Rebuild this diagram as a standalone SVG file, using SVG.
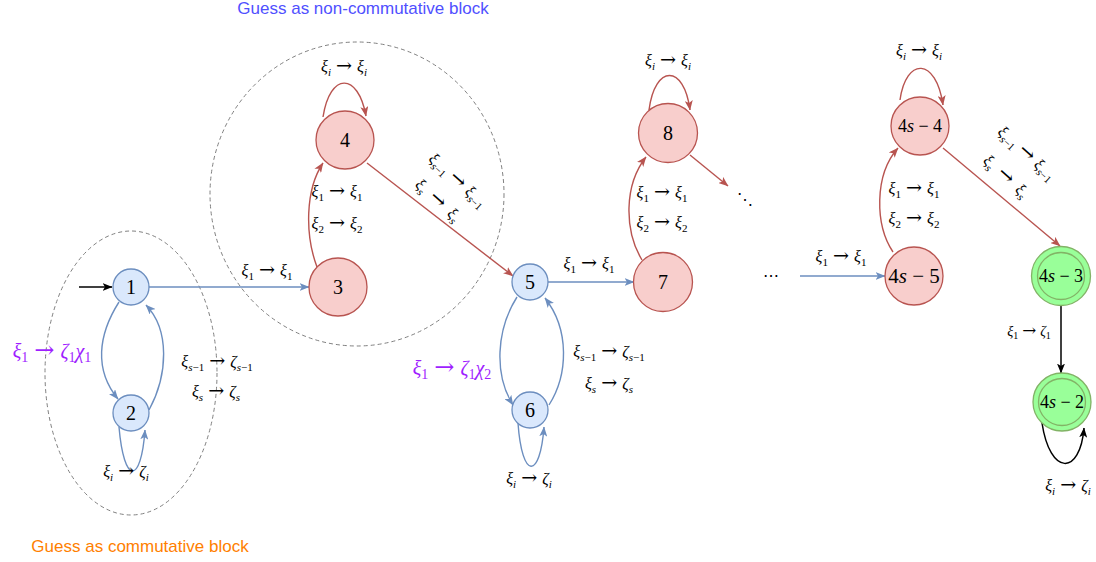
<svg xmlns="http://www.w3.org/2000/svg" width="1096" height="562" viewBox="0 0 1096 562">
<style>
.m{font-family:"Liberation Serif","DejaVu Serif",serif;font-size:16px;fill:#000;text-anchor:middle}
.i{font-style:italic}
.s{font-size:11px}
.a{font-family:"DejaVu Serif","Liberation Serif",serif;font-style:normal;font-size:120%}
.p{fill:#9f1fff;font-size:20px}
.p .s{font-size:14px}
.sm{font-size:14px}
.sm .s{font-size:10px}
.nl{font-family:"Liberation Serif","DejaVu Serif",serif;font-size:20px;fill:#000;text-anchor:middle}
.nl2{font-family:"Liberation Serif","DejaVu Serif",serif;font-size:18px;fill:#000;text-anchor:middle}
.bn{fill:#dae8fc;stroke:#6c8ebf;stroke-width:1.3}
.rn{fill:#f8cecc;stroke:#b85450;stroke-width:1.3}
.gn{fill:#99ff99;stroke:#82b366;stroke-width:1.3}
.be{fill:none;stroke:#6c8ebf;stroke-width:1.4;marker-end:url(#ab)}
.re{fill:none;stroke:#b85450;stroke-width:1.4;marker-end:url(#ar)}
.ke{fill:none;stroke:#000;stroke-width:1.5;marker-end:url(#ak)}
.grp{fill:none;stroke:#808080;stroke-width:1;stroke-dasharray:4 3}
.t{font-family:"Liberation Sans",Arial,sans-serif;font-size:17px;text-anchor:middle}
</style>
<defs>
<marker id="ab" viewBox="0 0 10 8" markerWidth="10" markerHeight="8" refX="9.5" refY="4" orient="auto" markerUnits="userSpaceOnUse"><path d="M0,0 L10,4 L0,8 L2.5,4 Z" fill="#6c8ebf"/></marker>
<marker id="ar" viewBox="0 0 10 8" markerWidth="10" markerHeight="8" refX="9.5" refY="4" orient="auto" markerUnits="userSpaceOnUse"><path d="M0,0 L10,4 L0,8 L2.5,4 Z" fill="#b85450"/></marker>
<marker id="ak" viewBox="0 0 10 8" markerWidth="10" markerHeight="8" refX="9.5" refY="4" orient="auto" markerUnits="userSpaceOnUse"><path d="M0,0 L10,4 L0,8 L2.5,4 Z" fill="#000"/></marker>
</defs>
<rect width="1096" height="562" fill="#fff"/>

<g id="groups">
<ellipse class="grp" cx="131" cy="373" rx="86" ry="142"/>
<ellipse class="grp" cx="357" cy="194" rx="147" ry="152"/>
<text class="t" x="363" y="14" fill="#5050ff">Guess as non-commutative block</text>
<text class="t" x="140" y="552" fill="#ff8000">Guess as commutative block</text>
</g>

<g id="connectors">
<path class="ke" d="M79,287 L112,287"/>
<path class="be" d="M149,287 L309,287"/>
<path class="be" d="M119,302 C98,335 94,370 118,399"/>
<path class="be" d="M149,410 C168,375 170,330 146,305"/>
<path class="be" d="M119,427 C124,485 141,485 145,430"/>
<path class="re" d="M317,267 C305,235 305,190 323,163"/>
<path class="re" d="M323,117 C330,72 358,72 366,116"/>
<path class="re" d="M367,163 L513,276"/>
<path class="be" d="M548,282 L634,282"/>
<path class="be" d="M517,297 C496,330 494,375 513,405"/>
<path class="be" d="M549,405 C568,375 570,330 545,298"/>
<path class="be" d="M518,423 C522,480 540,480 544,427"/>
<path class="re" d="M642,260 C624,230 624,185 646,157"/>
<path class="re" d="M649,110 C655,64 684,64 690,110"/>
<path class="re" d="M690,155 L728,186"/>
<path class="be" d="M800,276 L885,276"/>
<path class="re" d="M893,252 C875,225 874,175 898,148"/>
<path class="re" d="M900,100 C906,57 936,57 943,105"/>
<path class="re" d="M943,148 L1060,246"/>
<path class="ke" d="M1061,305 L1061,373"/>
<path class="ke" d="M1042,423 C1050,476 1080,476 1084,428"/>

<g id="edge-labels">
<text class="m" x="267" y="276"><tspan class="i">ξ</tspan><tspan class="s" dy="4">1</tspan><tspan class="a" dx="5" dy="-4">→</tspan><tspan class="i" dx="5">ξ</tspan><tspan class="s" dy="4">1</tspan></text>
<text class="m p" x="52" y="358"><tspan class="i">ξ</tspan><tspan class="s" dy="4">1</tspan><tspan class="a" dx="6" dy="-4">→</tspan><tspan class="i" dx="6">ζ</tspan><tspan class="s" dy="4">1</tspan><tspan class="i" dy="-4">χ</tspan><tspan class="s" dy="4">1</tspan></text>
<text class="m" x="217" y="367"><tspan class="i">ξ</tspan><tspan class="s" dy="4"><tspan class="i">s</tspan>−1</tspan><tspan class="a" dx="5" dy="-4">→</tspan><tspan class="i" dx="5">ζ</tspan><tspan class="s" dy="4"><tspan class="i">s</tspan>−1</tspan></text>
<text class="m" x="216" y="397"><tspan class="i">ξ</tspan><tspan class="s i" dy="4">s</tspan><tspan class="a" dx="5" dy="-4">→</tspan><tspan class="i" dx="5">ζ</tspan><tspan class="s i" dy="4">s</tspan></text>
<text class="m" x="126" y="477"><tspan class="i">ξ</tspan><tspan class="s i" dy="4">i</tspan><tspan class="a" dx="5" dy="-4">→</tspan><tspan class="i" dx="5">ζ</tspan><tspan class="s i" dy="4">i</tspan></text>

<text class="m" x="344" y="72"><tspan class="i">ξ</tspan><tspan class="s i" dy="4">i</tspan><tspan class="a" dx="5" dy="-4">→</tspan><tspan class="i" dx="5">ξ</tspan><tspan class="s i" dy="4">i</tspan></text>
<text class="m" x="337" y="197"><tspan class="i">ξ</tspan><tspan class="s" dy="4">1</tspan><tspan class="a" dx="5" dy="-4">→</tspan><tspan class="i" dx="5">ξ</tspan><tspan class="s" dy="4">1</tspan></text>
<text class="m" x="337" y="229"><tspan class="i">ξ</tspan><tspan class="s" dy="4">2</tspan><tspan class="a" dx="5" dy="-4">→</tspan><tspan class="i" dx="5">ξ</tspan><tspan class="s" dy="4">2</tspan></text>
<text class="m" transform="translate(457,181) rotate(42)" x="0" y="4"><tspan class="i">ξ</tspan><tspan class="s" dy="4"><tspan class="i">s</tspan>−1</tspan><tspan class="a" dx="5" dy="-4">→</tspan><tspan class="i" dx="5">ξ</tspan><tspan class="s" dy="4"><tspan class="i">s</tspan>−1</tspan></text>
<text class="m" transform="translate(437,201) rotate(42)" x="0" y="4"><tspan class="i">ξ</tspan><tspan class="s i" dy="4">s</tspan><tspan class="a" dx="8" dy="-4">→</tspan><tspan class="i" dx="8">ξ</tspan><tspan class="s i" dy="4">s</tspan></text>

<text class="m" x="589" y="269"><tspan class="i">ξ</tspan><tspan class="s" dy="4">1</tspan><tspan class="a" dx="5" dy="-4">→</tspan><tspan class="i" dx="5">ξ</tspan><tspan class="s" dy="4">1</tspan></text>
<text class="m p" x="452" y="375"><tspan class="i">ξ</tspan><tspan class="s" dy="4">1</tspan><tspan class="a" dx="6" dy="-4">→</tspan><tspan class="i" dx="6">ζ</tspan><tspan class="s" dy="4">1</tspan><tspan class="i" dy="-4">χ</tspan><tspan class="s" dy="4">2</tspan></text>
<text class="m" x="609" y="357"><tspan class="i">ξ</tspan><tspan class="s" dy="4"><tspan class="i">s</tspan>−1</tspan><tspan class="a" dx="5" dy="-4">→</tspan><tspan class="i" dx="5">ζ</tspan><tspan class="s" dy="4"><tspan class="i">s</tspan>−1</tspan></text>
<text class="m" x="609" y="389"><tspan class="i">ξ</tspan><tspan class="s i" dy="4">s</tspan><tspan class="a" dx="5" dy="-4">→</tspan><tspan class="i" dx="5">ζ</tspan><tspan class="s i" dy="4">s</tspan></text>
<text class="m" x="529" y="484"><tspan class="i">ξ</tspan><tspan class="s i" dy="4">i</tspan><tspan class="a" dx="5" dy="-4">→</tspan><tspan class="i" dx="5">ζ</tspan><tspan class="s i" dy="4">i</tspan></text>

<text class="m" x="668" y="66"><tspan class="i">ξ</tspan><tspan class="s i" dy="4">i</tspan><tspan class="a" dx="5" dy="-4">→</tspan><tspan class="i" dx="5">ξ</tspan><tspan class="s i" dy="4">i</tspan></text>
<text class="m" x="662" y="198"><tspan class="i">ξ</tspan><tspan class="s" dy="4">1</tspan><tspan class="a" dx="5" dy="-4">→</tspan><tspan class="i" dx="5">ξ</tspan><tspan class="s" dy="4">1</tspan></text>
<text class="m" x="662" y="228"><tspan class="i">ξ</tspan><tspan class="s" dy="4">2</tspan><tspan class="a" dx="5" dy="-4">→</tspan><tspan class="i" dx="5">ξ</tspan><tspan class="s" dy="4">2</tspan></text>
<text class="m" x="745" y="205" style="font-size:16px">⋱</text>
<text class="m" x="771" y="281" style="font-size:16px">⋯</text>

<text class="m" x="841" y="262"><tspan class="i">ξ</tspan><tspan class="s" dy="4">1</tspan><tspan class="a" dx="5" dy="-4">→</tspan><tspan class="i" dx="5">ξ</tspan><tspan class="s" dy="4">1</tspan></text>
<text class="m" x="914" y="194"><tspan class="i">ξ</tspan><tspan class="s" dy="4">1</tspan><tspan class="a" dx="5" dy="-4">→</tspan><tspan class="i" dx="5">ξ</tspan><tspan class="s" dy="4">1</tspan></text>
<text class="m" x="914" y="224"><tspan class="i">ξ</tspan><tspan class="s" dy="4">2</tspan><tspan class="a" dx="5" dy="-4">→</tspan><tspan class="i" dx="5">ξ</tspan><tspan class="s" dy="4">2</tspan></text>
<text class="m" x="919" y="56"><tspan class="i">ξ</tspan><tspan class="s i" dy="4">i</tspan><tspan class="a" dx="5" dy="-4">→</tspan><tspan class="i" dx="5">ξ</tspan><tspan class="s i" dy="4">i</tspan></text>
<text class="m" transform="translate(1026,154) rotate(42)" x="0" y="4"><tspan class="i">ξ</tspan><tspan class="s" dy="4"><tspan class="i">s</tspan>−1</tspan><tspan class="a" dx="5" dy="-4">→</tspan><tspan class="i" dx="5">ξ</tspan><tspan class="s" dy="4"><tspan class="i">s</tspan>−1</tspan></text>
<text class="m" transform="translate(1005,177) rotate(42)" x="0" y="4"><tspan class="i">ξ</tspan><tspan class="s i" dy="4">s</tspan><tspan class="a" dx="8" dy="-4">→</tspan><tspan class="i" dx="8">ξ</tspan><tspan class="s i" dy="4">s</tspan></text>
<text class="m sm" x="1029" y="336"><tspan class="i">ξ</tspan><tspan class="s" dy="3">1</tspan><tspan class="a" dx="4" dy="-3">→</tspan><tspan class="i" dx="4">ζ</tspan><tspan class="s" dy="3">1</tspan></text>
<text class="m" x="1068" y="491"><tspan class="i">ξ</tspan><tspan class="s i" dy="4">i</tspan><tspan class="a" dx="5" dy="-4">→</tspan><tspan class="i" dx="5">ζ</tspan><tspan class="s i" dy="4">i</tspan></text>
</g>
</g>

<g id="node-1"><circle class="bn" cx="131" cy="287" r="18"/><text class="nl" x="131" y="294">1</text></g>
<g id="node-2"><circle class="bn" cx="131" cy="413" r="18"/><text class="nl" x="131" y="420">2</text></g>
<g id="node-3"><circle class="rn" cx="338" cy="287" r="29"/><text class="nl" x="338" y="294">3</text></g>
<g id="node-4"><circle class="rn" cx="345" cy="140" r="29"/><text class="nl" x="345" y="147">4</text></g>
<g id="node-5"><circle class="bn" cx="530" cy="282" r="18"/><text class="nl" x="530" y="289">5</text></g>
<g id="node-6"><circle class="bn" cx="530" cy="410" r="18"/><text class="nl" x="530" y="417">6</text></g>
<g id="node-7"><circle class="rn" cx="663" cy="282" r="29.5"/><text class="nl" x="663" y="289">7</text></g>
<g id="node-8"><circle class="rn" cx="668" cy="133" r="29.5"/><text class="nl" x="668" y="140">8</text></g>
<g id="node-4s-5"><circle class="rn" cx="914" cy="276" r="29"/><text class="nl2" x="914" y="283" style="font-size:21px">4<tspan class="i">s</tspan> − 5</text></g>
<g id="node-4s-4"><circle class="rn" cx="920" cy="126" r="29"/><text class="nl2" x="920" y="132">4<tspan class="i">s</tspan> − 4</text></g>
<g id="node-4s-3"><circle class="gn" cx="1061" cy="276" r="29.5"/><circle cx="1061" cy="276" r="23.5" fill="none" stroke="#82b366" stroke-width="1.3"/><text class="nl2" x="1061" y="282">4<tspan class="i">s</tspan> − 3</text></g>
<g id="node-4s-2"><circle class="gn" cx="1062" cy="402" r="29"/><circle cx="1062" cy="402" r="23.5" fill="none" stroke="#82b366" stroke-width="1.3"/><text class="nl2" x="1062" y="408">4<tspan class="i">s</tspan> − 2</text></g>
</svg>
